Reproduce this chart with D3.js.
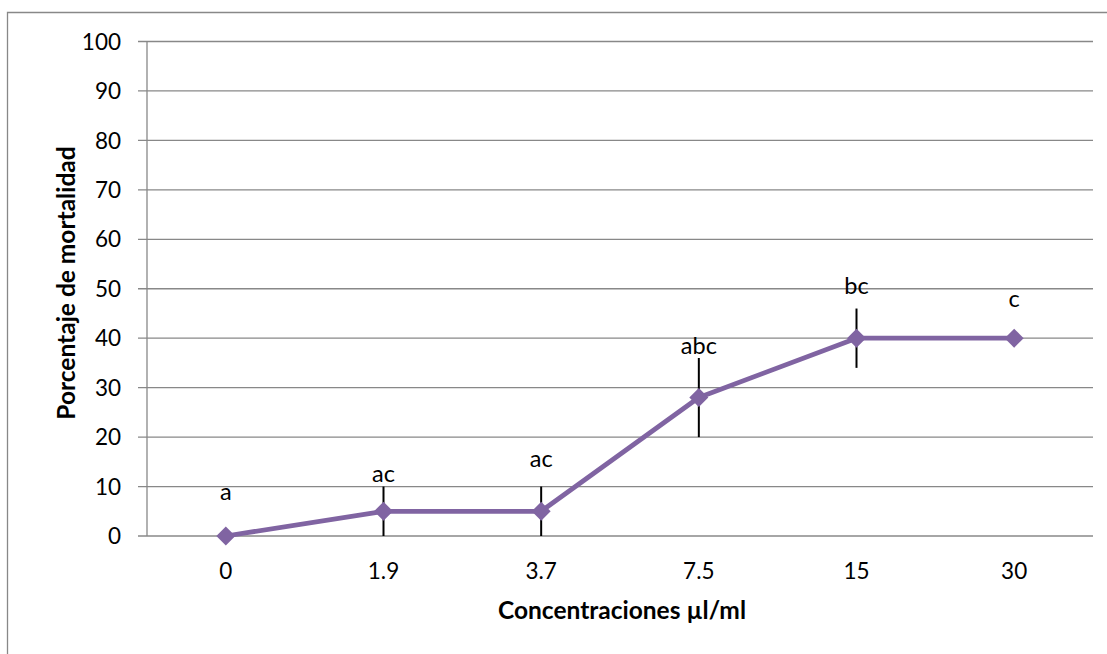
<!DOCTYPE html>
<html><head><meta charset="utf-8">
<script src="https://cdn.jsdelivr.net/npm/d3@7"></script>
<style>body{margin:0;background:#fff;}svg{display:block;font-family:Lato,"Open Sans",sans-serif;}</style>
</head><body>
<svg id="c" width="1107" height="654"></svg>
<script>
const categories = ["0","1.9","3.7","7.5","15","30"];
const values = [0,5,5,28,40,40];
const errors = [0,5,5,8,6,0];
const letters = ["a","ac","ac","abc","bc","c"];
const letterValues = [7.3,10.9,13.9,36.9,48.9,46.3];
const yTicks = [0,10,20,30,40,50,60,70,80,90,100];

const svg = d3.select("#c");
const L = 147, R = 1093, T = 41.5, B = 536;
// outer frame
svg.append("path").attr("d","M7.5,654 V12.5 H1107").attr("fill","none").attr("stroke","#888").attr("stroke-width",1.3);

const x = d3.scaleBand().domain(categories).range([L,R]);
const y = d3.scaleLinear().domain([0,100]).range([B,T]);

// gridlines
svg.append("g").selectAll("line").data(yTicks).join("line")
  .attr("x1",L-9).attr("x2",R).attr("y1",d=>y(d)).attr("y2",d=>y(d))
  .attr("stroke","#888").attr("stroke-width",1.3);
// y axis line
svg.append("line").attr("x1",L).attr("x2",L).attr("y1",T).attr("y2",B).attr("stroke","#888").attr("stroke-width",1.3);

// y tick labels
svg.append("g").selectAll("text").data(yTicks).join("text")
  .attr("x",121).attr("y",d=>y(d)).attr("dy","0.36em").attr("text-anchor","end")
  .attr("font-size",22.5).attr("fill","#000").text(d=>d);
// x tick labels
svg.append("g").selectAll("text").data(categories).join("text")
  .attr("x",d=>x(d)+x.bandwidth()/2).attr("y",579).attr("text-anchor","middle")
  .attr("font-size",22.5).attr("fill","#000").text(d=>d);

// axis titles
svg.append("text").attr("x",622).attr("y",619).attr("text-anchor","middle")
  .attr("font-size",24.5).attr("font-weight","bold").text("Concentraciones µl/ml");
svg.append("text").attr("transform","translate(75,283) rotate(-90)").attr("text-anchor","middle")
  .attr("font-size",24.5).attr("font-weight","bold").text("Porcentaje de mortalidad");

const cx = i => x(categories[i])+x.bandwidth()/2;

// error bars
svg.append("g").selectAll("line").data(values.map((v,i)=>({v,e:errors[i],i})).filter(d=>d.e>0)).join("line")
  .attr("x1",d=>cx(d.i)).attr("x2",d=>cx(d.i)).attr("y1",d=>y(d.v-d.e)).attr("y2",d=>y(d.v+d.e))
  .attr("stroke","#000").attr("stroke-width",2);

// line
svg.append("path").datum(values)
  .attr("d",d3.line().x((d,i)=>cx(i)).y(d=>y(d)))
  .attr("fill","none").attr("stroke","#8064A2").attr("stroke-width",4.8).attr("stroke-linejoin","round");

// markers
svg.append("g").selectAll("path").data(values).join("path")
  .attr("d",d3.symbol().type(d3.symbolDiamond2).size(230))
  .attr("transform",(d,i)=>`translate(${cx(i)},${y(d)})`)
  .attr("fill","#8064A2");

// letters
svg.append("g").selectAll("text").data(letters).join("text")
  .attr("x",(d,i)=>cx(i)).attr("y",(d,i)=>y(letterValues[i])).attr("text-anchor","middle")
  .attr("font-size",23.5).attr("fill","#000").text(d=>d);
</script>
</body></html>
